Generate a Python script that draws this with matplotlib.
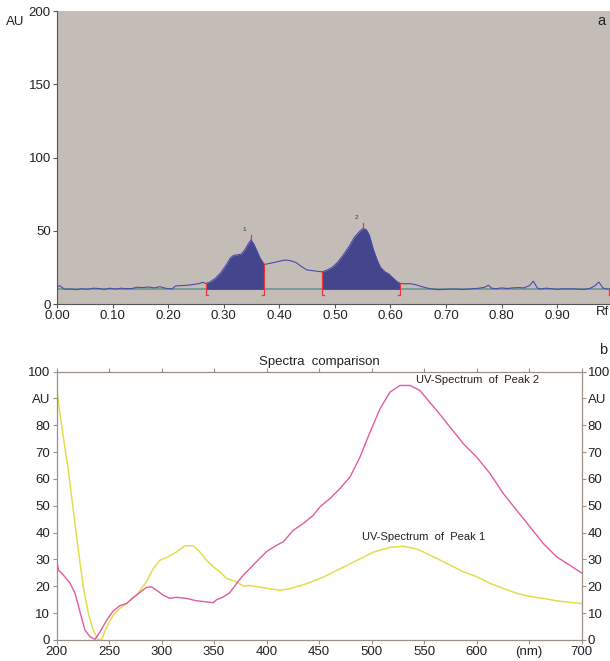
import matplotlib
matplotlib.use("Agg")
import matplotlib.pyplot as plt
import numpy as np

plt.rcParams['font.family'] = ['Liberation Sans', 'DejaVu Sans']

# ---------------- Panel a: densitogram ----------------
rf = [0.000, 0.005, 0.010, 0.015, 0.025, 0.035, 0.045, 0.055, 0.065, 0.075, 0.085,
      0.095, 0.105, 0.115, 0.125, 0.135, 0.145, 0.155, 0.165, 0.175, 0.185, 0.195,
      0.207, 0.213, 0.225, 0.235, 0.245, 0.255, 0.262, 0.268, 0.275, 0.285, 0.295,
      0.305, 0.312, 0.318, 0.325, 0.332, 0.338, 0.344, 0.349, 0.354, 0.360, 0.366,
      0.373, 0.380, 0.390, 0.400, 0.410, 0.420, 0.430, 0.440, 0.450, 0.460, 0.470,
      0.477, 0.485, 0.495, 0.505, 0.515, 0.525, 0.535, 0.545, 0.551, 0.557, 0.562,
      0.569, 0.576, 0.582, 0.590, 0.597, 0.604, 0.612, 0.618, 0.625, 0.635, 0.645,
      0.655, 0.665, 0.675, 0.685, 0.700, 0.715, 0.730, 0.745, 0.760, 0.770, 0.776,
      0.782, 0.790, 0.800, 0.810, 0.820, 0.830, 0.840, 0.850, 0.857, 0.864, 0.870,
      0.880, 0.890, 0.900, 0.910, 0.920, 0.930, 0.940, 0.950, 0.960, 0.968, 0.975,
      0.982, 0.990, 0.995]
au = [11.5, 12.5, 11.0, 10.0, 10.2, 9.8, 10.4, 10.0, 10.8, 10.6, 10.0,
      10.8, 10.2, 10.8, 10.4, 10.6, 11.5, 11.2, 11.6, 11.0, 11.8, 10.8,
      10.2, 12.3, 12.6, 12.8, 13.3, 13.9, 14.8, 14.0, 15.0, 17.5, 21.5,
      27.0, 31.5, 33.2, 33.6, 34.2, 37.0, 41.0, 43.8, 41.0, 36.0, 31.0,
      27.0, 27.5, 28.3, 29.2, 30.0, 29.6, 28.3, 25.5, 23.2, 22.8, 22.2,
      22.0, 23.0, 25.0, 28.5, 33.5, 39.0, 45.5, 49.8, 51.6, 50.5, 47.0,
      37.5, 30.0, 25.0, 22.0, 20.5, 18.0, 15.2, 14.0, 13.8, 13.9, 13.2,
      12.0, 11.0, 10.2, 9.8, 10.0, 10.2, 9.9, 10.3, 10.8, 11.5, 12.8,
      10.8, 10.4, 11.0, 10.6, 11.0, 11.2, 11.0, 12.5, 15.6, 11.0, 10.2,
      10.8, 10.4, 10.0, 10.4, 10.2, 10.4, 10.0, 10.0, 10.8, 12.5, 15.0,
      11.0, 10.2, 10.0]
baseline_au = 10.0
peak_names = ['1', '2']
peak_start = [0.268, 0.477]
peak_end = [0.373, 0.618]
peak_max_rf = [0.349, 0.551]
peak_max_au = [43.8, 51.6]
a_xticks = [0.0, 0.1, 0.2, 0.3, 0.4, 0.5, 0.6, 0.7, 0.8, 0.9]
a_xticklabels = ['0.00', '0.10', '0.20', '0.30', '0.40', '0.50', '0.60', '0.70', '0.80', '0.90']
a_yticks = [0, 50, 100, 150, 200]

# ---------------- Panel b: spectra ----------------
nm2 = [200, 202, 206.5, 212.9, 217.6, 222.4, 227.1, 231.9, 236.7, 241.4, 247.8,
       254.1, 260.4, 266.7, 273, 279.4, 285.7, 290.5, 295.2, 301.6, 308, 314.3,
       323.8, 333.3, 342.9, 349.2, 352.4, 358.7, 365, 371.4, 377.8, 384.1, 387.5,
       393.8, 400.2, 409.7, 416, 425.6, 435.1, 444.6, 451, 460.5, 470, 479.5, 489,
       498.6, 508.1, 517.6, 527.1, 536.7, 546.2, 554, 562.1, 574.8, 587.5, 600.2,
       612.9, 625.6, 638.3, 651, 663.7, 676.3, 689, 700]
peak2 = [29.7, 26.0, 24.2, 21.2, 17.5, 10.4, 3.7, 1.2, 0.25, 3.0, 7.4,
         10.8, 12.8, 13.6, 15.8, 17.7, 19.6, 19.8, 18.6, 16.7, 15.5, 15.9,
         15.5, 14.6, 14.2, 13.9, 15.0, 16.0, 17.6, 21.0, 24.1, 26.6, 28.0,
         30.5, 33.0, 35.3, 36.6, 40.9, 43.4, 46.5, 49.6, 52.7, 56.4, 60.7, 68.1,
         77.4, 86.1, 92.3, 94.8, 94.8, 92.9, 89.2, 85.5, 79.3, 73.1, 68.1,
         62.0, 54.5, 48.3, 42.1, 35.9, 31.0, 27.8, 25.0]
nm1 = [200, 202, 206.5, 211.3, 216, 220.8, 225.5, 230.3, 235, 239.8, 243, 247.8,
       254.1, 260.4, 266.7, 276.2, 285.7, 292.1, 298.4, 304.8, 314.3, 322.2, 330.2,
       336.5, 342.9, 349.2, 355.6, 362, 371.4, 377.8, 384.3, 393.8, 403.3, 412.9,
       422.4, 438.3, 454.1, 470, 485.9, 501.7, 517.6, 530.3, 543, 549.4, 562.1,
       574.8, 587.5, 600.2, 612.9, 625.6, 638.3, 651, 663.7, 676.3, 689, 700]
peak1 = [94.8, 87.9, 75.5, 63.1, 48.3, 33.5, 19.8, 9.9, 3.7, 0.0, 0.25, 4.9,
         9.3, 11.8, 13.6, 16.7, 21.7, 26.6, 29.7, 30.7, 32.8, 35.1, 35.1,
         32.8, 29.7, 27.3, 25.4, 22.9, 21.7, 20.1, 20.3, 19.7, 19.1, 18.5,
         19.1, 21.0, 23.4, 26.5, 29.6, 32.7, 34.5, 34.9, 33.9, 32.8, 30.4,
         27.9, 25.4, 23.6, 21.1, 19.2, 17.4, 16.2, 15.5, 14.6, 14.0, 13.6]
b_xticks = [200, 250, 300, 350, 400, 450, 500, 550, 600, 650, 700]
b_xticklabels = ['200', '250', '300', '350', '400', '450', '500', '550', '600', '(nm)', '700']
b_yticks = [0, 10, 20, 30, 40, 50, 60, 70, 80, 90, 100]
b_yticklabels = ['0', '10', '20', '30', '40', '50', '60', '70', '80', 'AU', '100']

W, H = 610, 661
fig = plt.figure(figsize=(W / 100, H / 100), dpi=100)
FS = 9.5
TXT = '#222222'

# ---- axes a ----
axa = fig.add_axes([57 / W, 1 - 304 / H, (W - 57) / W, (304 - 11) / H])
axa.set_facecolor('#c4bdb7')
axa.set_xlim(0, 0.995)
axa.set_ylim(0, 200)
for s in ['top', 'right']:
    axa.spines[s].set_visible(False)
for s in ['left', 'bottom']:
    axa.spines[s].set_color('#555555')
    axa.spines[s].set_linewidth(0.8)
rf_a = np.array(rf)
au_a = np.array(au)
axa.axhline(baseline_au, color='#6f9a93', lw=1.3, zorder=2)
for st, en in zip(peak_start, peak_end):
    m = (rf_a >= st - 1e-9) & (rf_a <= en + 1e-9)
    axa.fill_between(rf_a[m], baseline_au, au_a[m], color='#45458e', lw=0, zorder=3)
axa.plot(rf_a, au_a, color='#4b4bab', lw=0.8, zorder=4)
foot = 0.004
for st, en in zip(peak_start, peak_end):
    ys = np.interp(st, rf_a, au_a)
    ye = np.interp(en, rf_a, au_a)
    axa.plot([st, st, st + foot], [ys, 6.0, 6.0], color='#e8383a', lw=0.9, zorder=5)
    axa.plot([en, en, en - foot], [ye, 6.0, 6.0], color='#e8383a', lw=0.9, zorder=5)
axa.plot([0.994, 0.994], [6.0, 10.0], color='#e8383a', lw=0.9, zorder=5)
for name, px, py in zip(peak_names, peak_max_rf, peak_max_au):
    axa.plot([px, px], [py + 0.5, py + 3.5], color='#e8383a', lw=0.9, zorder=5)
    axa.text(px - 0.012, py + 5.5, name, fontsize=4.5, color='#333333',
             ha='center', va='bottom')
axa.set_xticks(a_xticks)
axa.set_xticklabels(a_xticklabels)
axa.set_yticks(a_yticks)
axa.tick_params(axis='both', direction='out', length=3, width=0.8, color='#555555',
                labelsize=FS, labelcolor=TXT, pad=1.5)
axa.text(0.982, -0.008, 'Rf', transform=axa.get_xaxis_transform(), ha='center', va='top',
         fontsize=FS, color=TXT)
fig.text(15 / W, 1 - 22 / H, 'AU', ha='center', va='center', fontsize=FS, color=TXT)
fig.text(601 / W, 1 - 21 / H, 'a', ha='center', va='center', fontsize=10.5, color=TXT)

# ---- axes b ----
axb = fig.add_axes([56.5 / W, 1 - 640 / H, 525 / W, (640 - 371.5) / H])
axb.set_xlim(200, 700)
axb.set_ylim(0, 100)
for s in axb.spines.values():
    s.set_color('#9a9088')
    s.set_linewidth(0.9)
axb.plot(nm2, peak2, color='#e35aa2', lw=1.0, zorder=3)
axb.plot(nm1, peak1, color='#e2df4a', lw=1.1, zorder=2)
axb.set_xticks(b_xticks)
axb.set_xticklabels(b_xticklabels)
axb.set_yticks(b_yticks)
axb.set_yticklabels(b_yticklabels)
axb.tick_params(axis='both', direction='out', length=3, width=0.8, color='#9a9088',
                labelsize=FS, labelcolor=TXT, pad=1.5,
                top=True, right=True, labelright=True)
axb.set_title('Spectra  comparison', fontsize=FS, color=TXT, pad=5)
axb.text(416 / W, 1 - 380 / H, 'UV-Spectrum  of  Peak 2', transform=fig.transFigure,
         ha='left', va='center', fontsize=8, color=TXT)
axb.text(362 / W, 1 - 537 / H, 'UV-Spectrum  of  Peak 1', transform=fig.transFigure,
         ha='left', va='center', fontsize=8, color=TXT)
fig.text(603 / W, 1 - 350 / H, 'b', ha='center', va='center', fontsize=10.5, color=TXT)

fig.savefig('out.png', dpi=100)
